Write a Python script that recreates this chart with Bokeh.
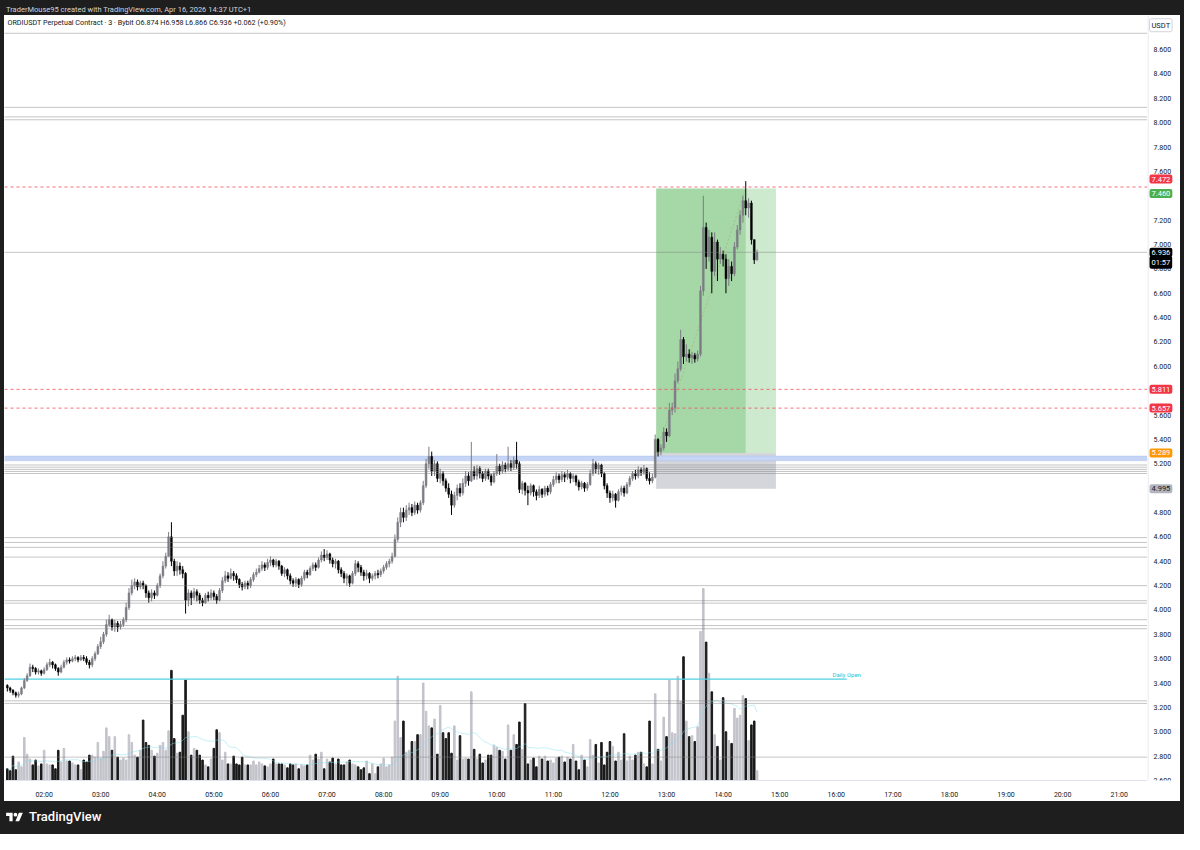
import numpy as np
import pandas as pd
from bokeh.plotting import figure
from bokeh.models import (Range1d, Span, BoxAnnotation, Label, FixedTicker,
                          DatetimeTickFormatter, Div, ColumnDataSource)
from bokeh.layouts import column, row
from bokeh.embed import file_html
from bokeh.resources import INLINE
from bokeh.core.properties import value

# ---------------- data ----------------
first_time = "2026-04-16 01:21"   # 3-minute candles
first_open = 3.38
close = [3.36,3.34,3.32,3.30,3.31,3.36,3.42,3.46,3.53,3.52,
         3.49,3.50,3.48,3.51,3.55,3.57,3.55,3.52,3.49,3.53,
         3.57,3.59,3.58,3.60,3.61,3.59,3.61,3.60,3.57,3.55,
         3.60,3.64,3.70,3.74,3.80,3.88,3.92,3.86,3.89,3.86,
         3.88,3.92,4.02,4.14,4.20,4.23,4.19,4.22,4.20,4.14,
         4.10,4.14,4.12,4.20,4.28,4.36,4.44,4.60,4.40,4.32,
         4.36,4.33,4.30,4.08,4.14,4.10,4.15,4.12,4.08,4.06,
         4.12,4.10,4.14,4.11,4.08,4.16,4.24,4.28,4.26,4.30,
         4.28,4.25,4.21,4.19,4.22,4.20,4.25,4.29,4.31,4.34,
         4.37,4.35,4.39,4.41,4.37,4.40,4.36,4.30,4.33,4.28,
         4.24,4.22,4.25,4.21,4.26,4.31,4.29,4.34,4.37,4.35,
         4.41,4.45,4.43,4.46,4.41,4.38,4.40,4.33,4.30,4.26,
         4.28,4.22,4.30,4.38,4.35,4.31,4.28,4.30,4.26,4.28,
         4.30,4.29,4.32,4.35,4.38,4.40,4.44,4.58,4.72,4.80,
         4.76,4.82,4.84,4.80,4.86,4.82,4.88,5.02,5.20,5.26,
         5.14,5.20,5.08,5.12,5.06,5.00,4.95,4.86,4.94,5.00,
         4.96,5.04,5.10,5.06,5.14,5.10,5.16,5.12,5.08,5.14,
         5.10,5.05,5.12,5.18,5.14,5.19,5.16,5.20,5.17,5.23,
         5.20,4.99,5.04,4.98,4.96,5.02,4.97,4.94,4.99,4.95,
         5.00,4.97,5.03,5.07,5.10,5.07,5.11,5.09,5.12,5.08,
         5.10,5.05,5.01,5.04,5.00,5.03,5.12,5.20,5.16,5.19,
         5.12,5.02,4.96,4.92,4.95,4.90,4.97,5.00,4.96,5.03,
         5.08,5.12,5.10,5.15,5.13,5.16,5.08,5.06,5.09,5.40,
         5.30,5.33,5.46,5.43,5.64,5.66,5.88,5.98,6.22,6.08,
         6.10,6.07,6.09,6.06,6.10,6.62,7.14,6.90,7.06,6.78,
         7.02,6.88,6.92,6.88,6.72,6.82,6.76,6.98,7.12,7.24,
         7.36,7.30,7.34,7.04,6.874,6.936]
high = [3.39,3.37,3.35,3.33,3.33,3.37,3.44,3.48,3.56,3.55,
        3.53,3.52,3.51,3.53,3.57,3.60,3.58,3.56,3.53,3.55,
        3.59,3.61,3.61,3.62,3.63,3.62,3.63,3.63,3.62,3.59,
        3.62,3.66,3.72,3.78,3.82,3.92,3.96,3.93,3.92,3.91,
        3.91,3.94,4.06,4.18,4.25,4.26,4.25,4.24,4.24,4.21,
        4.16,4.17,4.16,4.22,4.30,4.40,4.47,4.64,4.72,4.42,
        4.40,4.39,4.36,4.31,4.17,4.16,4.18,4.17,4.14,4.10,
        4.14,4.15,4.17,4.16,4.13,4.18,4.27,4.32,4.31,4.34,
        4.32,4.30,4.26,4.23,4.24,4.24,4.27,4.31,4.34,4.37,
        4.40,4.39,4.42,4.44,4.42,4.42,4.41,4.37,4.35,4.34,
        4.30,4.26,4.27,4.26,4.28,4.33,4.33,4.36,4.39,4.39,
        4.43,4.48,4.50,4.49,4.47,4.43,4.42,4.41,4.35,4.32,
        4.30,4.29,4.32,4.41,4.40,4.37,4.33,4.33,4.31,4.30,
        4.32,4.33,4.34,4.37,4.40,4.42,4.47,4.62,4.76,4.84,
        4.84,4.86,4.88,4.87,4.89,4.88,4.90,5.06,5.24,5.34,
        5.30,5.23,5.22,5.16,5.14,5.08,5.04,4.98,4.97,5.03,
        5.04,5.08,5.14,5.13,5.38,5.18,5.19,5.18,5.14,5.16,
        5.16,5.12,5.14,5.28,5.20,5.22,5.21,5.34,5.23,5.26,
        5.38,5.22,5.06,5.05,5.02,5.04,5.03,4.99,5.02,5.00,
        5.02,5.02,5.05,5.10,5.13,5.12,5.14,5.13,5.15,5.13,
        5.12,5.11,5.07,5.06,5.05,5.05,5.15,5.24,5.22,5.21,
        5.20,5.13,5.04,4.98,4.98,4.96,4.99,5.02,5.02,5.05,
        5.10,5.14,5.15,5.18,5.17,5.19,5.17,5.13,5.12,5.44,
        5.41,5.36,5.50,5.49,5.70,5.70,5.94,6.04,6.30,6.24,
        6.18,6.14,6.12,6.11,6.13,6.66,7.40,7.18,7.12,7.10,
        7.10,7.04,6.98,6.95,6.92,6.88,6.86,7.02,7.16,7.28,
        7.40,7.52,7.38,7.36,7.04,6.958]
low = [3.33,3.32,3.30,3.28,3.28,3.30,3.35,3.41,3.45,3.49,
       3.47,3.47,3.46,3.47,3.50,3.53,3.52,3.50,3.46,3.48,
       3.52,3.55,3.56,3.57,3.58,3.57,3.58,3.58,3.55,3.52,
       3.53,3.58,3.63,3.68,3.72,3.78,3.86,3.83,3.82,3.82,
       3.84,3.86,3.90,4.00,4.12,4.17,4.16,4.17,4.17,4.10,
       4.06,4.07,4.09,4.11,4.18,4.26,4.34,4.44,4.36,4.28,
       4.28,4.29,4.26,3.97,4.03,4.04,4.08,4.07,4.05,4.03,
       4.05,4.07,4.08,4.08,4.05,4.07,4.14,4.22,4.23,4.25,
       4.24,4.22,4.18,4.16,4.17,4.17,4.18,4.23,4.27,4.30,
       4.32,4.32,4.33,4.36,4.35,4.35,4.33,4.28,4.27,4.25,
       4.21,4.19,4.19,4.18,4.19,4.24,4.26,4.28,4.32,4.32,
       4.34,4.39,4.40,4.41,4.38,4.35,4.34,4.30,4.27,4.22,
       4.20,4.19,4.21,4.28,4.31,4.28,4.24,4.25,4.22,4.24,
       4.25,4.26,4.27,4.30,4.33,4.35,4.38,4.43,4.56,4.68,
       4.72,4.73,4.78,4.77,4.78,4.79,4.80,4.86,5.00,5.16,
       5.10,5.10,5.05,5.04,5.02,4.97,4.92,4.78,4.84,4.90,
       4.93,4.94,5.01,5.02,5.05,5.07,5.07,5.08,5.05,5.06,
       5.07,5.02,5.04,5.10,5.11,5.12,5.13,5.14,5.14,5.15,
       5.16,4.96,4.95,4.94,4.86,4.94,4.93,4.90,4.92,4.92,
       4.93,4.94,4.95,5.01,5.04,5.04,5.05,5.05,5.07,5.04,
       5.05,5.02,4.98,4.99,4.97,4.98,5.02,5.10,5.12,5.11,
       5.09,4.99,4.92,4.88,4.89,4.84,4.89,4.94,4.93,4.95,
       5.01,5.06,5.07,5.08,5.10,5.11,5.06,5.03,5.04,5.08,
       5.26,5.27,5.31,5.38,5.42,5.60,5.62,5.86,5.96,6.02,
       6.04,6.03,6.02,6.03,6.04,6.08,6.58,6.80,6.86,6.60,
       6.74,6.70,6.84,6.82,6.60,6.66,6.70,6.74,6.96,7.08,
       7.18,7.24,7.22,7.00,6.84,6.866]
volume_k = [12,10,25,11,19,14,44,27,22,16,
            21,15,17,31,17,16,16,12,31,19,
            33,20,20,18,16,16,11,21,19,26,
            26,24,39,23,30,54,45,31,45,24,
            21,23,21,47,39,26,24,31,62,39,
            36,31,25,28,36,39,31,51,113,43,
            28,29,67,103,50,26,33,31,26,21,
            16,14,22,33,52,49,21,29,17,17,
            25,17,16,24,16,16,16,20,16,19,
            17,15,14,17,22,17,17,17,16,13,
            17,16,17,12,16,15,16,26,21,27,
            22,29,12,22,19,23,17,22,16,16,
            19,21,17,16,14,11,13,20,7,17,
            7,14,17,23,14,16,24,
            61,107,44,61,29,31,40,40,47,47,
            100,71,56,54,63,27,77,49,43,49,
            28,56,21,46,22,23,22,91,32,22,
            27,18,21,26,26,36,34,31,30,22,
            57,31,47,37,60,32,79,17,21,23,
            14,25,22,25,20,21,18,23,24,25,
            19,24,22,37,20,11,26,21,14,42,
            26,37,18,39,16,29,40,35,20,29,
            21,48,20,25,21,26,29,29,17,14,
            61,17,89,32,20,65,45,103,49,48,
            107,81,127,61,45,46,40,55,153,197,
            142,110,91,47,35,21,85,50,41,38,
            74,64,67,87,84,41,57,61,10]

hour_ticks = ["02:00","03:00","04:00","05:00","06:00","07:00","08:00","09:00","10:00","11:00",
              "12:00","13:00","14:00","15:00","16:00","17:00","18:00","19:00","20:00","21:00"]
price_ticks = [2.6,2.8,3.0,3.2,3.4,3.6,3.8,4.0,4.2,4.4,4.6,4.8,5.0,5.2,5.4,5.6,5.8,6.0,
               6.2,6.4,6.6,6.8,7.0,7.2,7.4,7.6,7.8,8.0,8.2,8.4,8.6]

# drawn levels
dotted_levels = [8.734, 8.126, 8.048, 8.024, 6.936, 5.19, 5.172, 5.154, 5.137, 5.12,
                 4.594, 4.554, 4.514, 4.434, 4.20, 4.076, 4.056, 3.92, 3.872, 3.846,
                 3.254, 3.233, 2.792]
red_levels = [7.472, 5.811, 5.657]
zone_bottom, zone_top = 5.224, 5.264
daily_open = 3.432
daily_open_end = "16:11"
entry, target, stop = 5.289, 7.460, 4.995
pos_start, pos_hit, pos_end = "12:49", "14:24", "14:56"

# price-scale tags: (price, text, background, text colour, vertical nudge px)
price_tags = [(8.80, "USDT", "white", "#131722", 0),
              (7.472, "7.472", "#f23645", "white", 8),
              (7.460, "7.460", "#4caf50", "white", -5),
              (6.936, "6.936", "#000000", "white", 0),
              (6.936, "01:57", "#000000", "white", -10),
              (5.811, "5.811", "#f23645", "white", 0),
              (5.657, "5.657", "#f23645", "white", 0),
              (5.289, "5.289", "#ff9800", "white", 0),
              (4.995, "4.995", "#b2b5be", "#131722", 0)]

day = "2026-04-16 "
def ts(hm):
    return pd.Timestamp(day + hm)
def ms(t):
    return t.value / 1e6

times = pd.date_range(first_time, periods=len(close), freq="3min")
opens = [first_open] + close[:-1]
up = [c >= o for o, c in zip(opens, close)]
src = ColumnDataSource(dict(
    t=times, h=high, l=low,
    top=np.maximum(opens, close), bot=np.minimum(opens, close),
    vol=volume_k,
    cc=["#7c7c84" if u else "#000000" for u in up],
    vc=["#c3c3cb" if u else "#1a1a1a" for u in up],
))

t_left = ts("01:18")
t_right = ts("21:30")
FONT = "Roboto"
H = 786
BOTTOM = 16

p = figure(width=1143, height=H, x_axis_type="datetime",
           x_range=Range1d(t_left, t_right), y_range=Range1d(2.6, 8.88),
           output_backend="svg", toolbar_location=None, y_axis_location=None,
           min_border_left=0, min_border_top=0, min_border_right=0, min_border_bottom=BOTTOM,
           background_fill_color="white", border_fill_color="white", outline_line_color=None)
p.grid.visible = False
p.extra_y_ranges = {"vol": Range1d(0, 785)}

# position tool boxes
p.add_layout(BoxAnnotation(left=ms(ts(pos_start)), right=ms(ts(pos_hit)), bottom=entry, top=target,
                           fill_color="#4caf50", fill_alpha=0.5, line_color=None, level="underlay"))
p.add_layout(BoxAnnotation(left=ms(ts(pos_hit)), right=ms(ts(pos_end)), bottom=entry, top=target,
                           fill_color="#4caf50", fill_alpha=0.28, line_color=None, level="underlay"))
p.add_layout(BoxAnnotation(left=ms(ts(pos_start)), right=ms(ts(pos_end)), bottom=stop, top=entry,
                           fill_color="#b2b5be", fill_alpha=0.55, line_color=None, level="underlay"))
# blue zone
p.add_layout(BoxAnnotation(bottom=zone_bottom, top=zone_top, fill_color="#c6d4f6", fill_alpha=1,
                           line_color="#93aee8", line_width=1, level="underlay"))

# volume
p.vbar(x="t", top="vol", bottom=0, width=0.55 * 180000, color="vc", source=src, y_range_name="vol")
ma = pd.Series(volume_k, dtype=float).rolling(20, min_periods=1).mean()
p.line(times, ma, y_range_name="vol", line_color="#80deea", line_alpha=0.45, line_width=1)

# levels
for lv in dotted_levels:
    p.add_layout(Span(location=lv, dimension="width", line_color="#7d7d7d",
                      line_dash="1 1", line_width=1, line_alpha=0.9))
for lv in red_levels:
    p.add_layout(Span(location=lv, dimension="width", line_color="#f7525f",
                      line_dash="3 3", line_width=1, line_alpha=0.85))

# daily open
p.line([t_left, ts(daily_open_end)], [daily_open, daily_open], line_color="#4dd0e1", line_width=1.2)
p.text(x=[ts(daily_open_end)], y=[daily_open], text=["Daily Open"], text_align="center",
       text_baseline="bottom", y_offset=-1, text_font=value(FONT), text_font_size="6px",
       text_color="#26c6da")

# dotted path of the position
p.line([ts(pos_start), ts(pos_hit)], [entry, target], line_color="#b0a860", line_alpha=0.5,
       line_dash="2 2", line_width=1)

# candles
p.segment(x0="t", y0="l", x1="t", y1="h", color="cc", line_width=1, source=src)
p.vbar(x="t", top="top", bottom="bot", width=0.65 * 180000, fill_color="cc", line_color="cc",
       line_width=0.5, source=src)

# time axis
xa = p.xaxis[0]
xa.ticker = FixedTicker(ticks=[ms(ts(h)) for h in hour_ticks])
xa.formatter = DatetimeTickFormatter(hours="%H:%M", hourmin="%H:%M", minutes="%H:%M", days="%H:%M")
xa.axis_line_color = "#e0e3eb"
xa.major_tick_line_color = None
xa.minor_tick_line_color = None
xa.major_label_text_font = FONT
xa.major_label_text_font_size = "7px"
xa.major_label_text_color = "#131722"
xa.major_label_standoff = 4

# legend text
p.add_layout(Label(x=ms(t_left), y=8.826, x_offset=3, text_baseline="middle",
                   text="ORDIUSDT Perpetual Contract · 3 · Bybit   O6.874  H6.958  L6.866  C6.936  +0.062 (+0.90%)",
                   text_font=FONT, text_font_size="7.2px", text_color="#131722"))

# ---------------- price scale (shares the price range) ----------------
pa = figure(width=33, height=H, x_range=Range1d(0, 33), y_range=p.y_range,
            output_backend="svg", toolbar_location=None, x_axis_location=None, y_axis_location=None,
            min_border_left=0, min_border_top=0, min_border_right=0, min_border_bottom=BOTTOM,
            background_fill_color="white", border_fill_color="white", outline_line_color=None)
pa.grid.visible = False
pa.add_layout(Span(location=0.5, dimension="height", line_color="#e0e3eb", line_width=1))
pa.text(x=[6] * len(price_ticks), y=price_ticks, text=[f"{v:.3f}" for v in price_ticks],
        text_align="left", text_baseline="middle", text_font=value(FONT),
        text_font_size="7px", text_color="#131722")
for price, txt, bg, fg, dy in price_tags:
    pa.add_layout(Label(x=2, y=price, y_offset=dy, text=txt, text_align="left",
                        text_baseline="middle", text_font=FONT, text_font_size="7.5px",
                        text_color=fg, background_fill_color=bg, background_fill_alpha=1,
                        border_line_color="#d1d4dc" if bg == "white" else None,
                        border_radius=2, padding=2))

DARK = "#1e1e1e"
header = Div(text='<div style="padding-left:6px;line-height:15px;font-family:Roboto;font-size:7.5px;color:#d1d4dc;white-space:nowrap">'
                  'TraderMouse95 created with TradingView.com, Apr 16, 2026 14:37 UTC+1</div>',
             width=1184, height=15, margin=0, styles={"background-color": DARK})
logo = ('<svg width="21" height="13" viewBox="0 0 36 28" style="vertical-align:middle">'
        '<path d="M14 22H7V11H0V4h14v18z" fill="#ffffff"/>'
        '<circle cx="20" cy="8" r="4" fill="#ffffff"/>'
        '<path d="M28 22h-8L27.5 4H36l-8 18z" fill="#ffffff"/></svg>')
footer = Div(text='<div style="padding-left:4px;padding-top:7px;font-family:Roboto;font-size:13px;'
                  'font-weight:500;color:#ffffff;white-space:nowrap">' + logo +
                  '<span style="vertical-align:middle;margin-left:4px">TradingView</span></div>',
             width=1184, height=33, margin=0, styles={"background-color": DARK})
padL = Div(text="", width=4, height=H, margin=0, styles={"background-color": DARK})
padR = Div(text="", width=4, height=H, margin=0, styles={"background-color": DARK})

layout = column(header, row(padL, p, pa, padR, spacing=0), footer, spacing=0)
open("out.html", "w").write(file_html(layout, INLINE))
